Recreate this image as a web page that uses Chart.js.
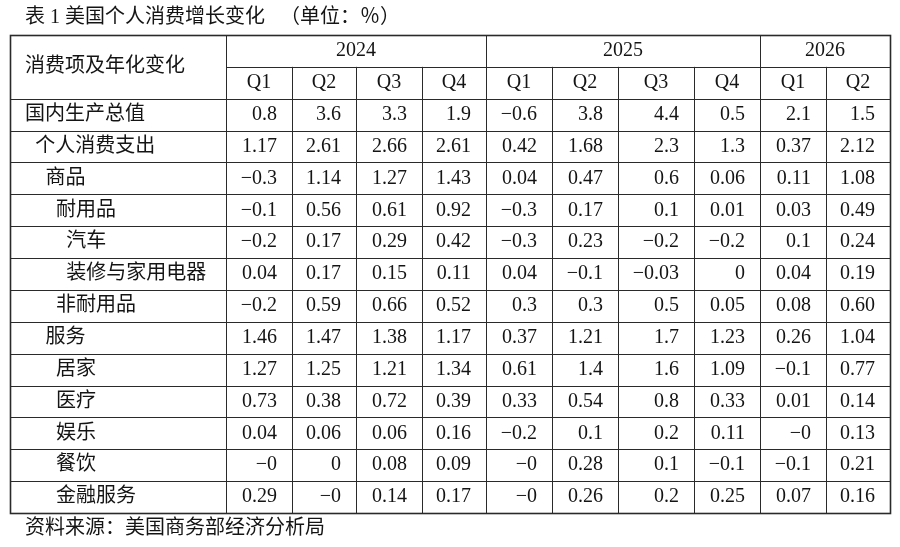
<!DOCTYPE html>
<html>
<head>
<meta charset="utf-8">
<script src="https://cdn.jsdelivr.net/npm/chart.js@4.4.1/dist/chart.umd.min.js"></script>
<style>
  html, body { margin: 0; padding: 0; background: #fff; }
  #myChart { display: block; }
</style>
</head>
<body>
<canvas id="myChart" width="900" height="547"></canvas>
<script>
const tableTitle = "表 1 美国个人消费增长变化   （单位：％）"
const sourceNote = "资料来源：美国商务部经济分析局"
const cornerLabel = "消费项及年化变化"

// header
const years = ["2024", "2025", "2026"]
const yearSpans = [4, 4, 2]
const quarters = ["Q1", "Q2", "Q3", "Q4", "Q1", "Q2", "Q3", "Q4", "Q1", "Q2"]

// row labels and their indent level
const items = ["国内生产总值", "个人消费支出", "商品", "耐用品", "汽车", "装修与家用电器", "非耐用品",
  "服务", "居家", "医疗", "娱乐", "餐饮", "金融服务"]
const itemLevels = [0, 1, 2, 3, 4, 4, 3, 2, 3, 3, 3, 3, 3]

// values, kept as printed in the table
const gdp = ["0.8", "3.6", "3.3", "1.9", "-0.6", "3.8", "4.4", "0.5", "2.1", "1.5"]
const pce = ["1.17", "2.61", "2.66", "2.61", "0.42", "1.68", "2.3", "1.3", "0.37", "2.12"]
const goods = ["-0.3", "1.14", "1.27", "1.43", "0.04", "0.47", "0.6", "0.06", "0.11", "1.08"]
const durable = ["-0.1", "0.56", "0.61", "0.92", "-0.3", "0.17", "0.1", "0.01", "0.03", "0.49"]
const autos = ["-0.2", "0.17", "0.29", "0.42", "-0.3", "0.23", "-0.2", "-0.2", "0.1", "0.24"]
const furnishings = ["0.04", "0.17", "0.15", "0.11", "0.04", "-0.1", "-0.03", "0", "0.04", "0.19"]
const nondurable = ["-0.2", "0.59", "0.66", "0.52", "0.3", "0.3", "0.5", "0.05", "0.08", "0.60"]
const services = ["1.46", "1.47", "1.38", "1.17", "0.37", "1.21", "1.7", "1.23", "0.26", "1.04"]
const housing = ["1.27", "1.25", "1.21", "1.34", "0.61", "1.4", "1.6", "1.09", "-0.1", "0.77"]
const health = ["0.73", "0.38", "0.72", "0.39", "0.33", "0.54", "0.8", "0.33", "0.01", "0.14"]
const recreation = ["0.04", "0.06", "0.06", "0.16", "-0.2", "0.1", "0.2", "0.11", "-0", "0.13"]
const foodService = ["-0", "0", "0.08", "0.09", "-0", "0.28", "0.1", "-0.1", "-0.1", "0.21"]
const financial = ["0.29", "-0", "0.14", "0.17", "-0", "0.26", "0.2", "0.25", "0.07", "0.16"]

const rows = [gdp, pce, goods, durable, autos, furnishings, nondurable,
  services, housing, health, recreation, foodService, financial]

// layout: column widths in x-axis units
const colWidths = [216, 66, 64, 66, 64, 66, 66, 76, 66, 66, 64]
const edges = [0]
colWidths.forEach(w => edges.push(edges[edges.length - 1] + w))
const headerRows = 2
const totalRows = headerRows + items.length

const font = '20px "Liberation Serif", "Noto Sans CJK SC", serif'
const ink = "#141414"

// one anchor point per value cell
const cells = []
rows.forEach((row, r) => {
  row.forEach((v, c) => {
    cells.push({ x: (edges[c + 1] + edges[c + 2]) / 2, y: headerRows + r + 0.5, col: c, text: v })
  })
})

const tablePlugin = {
  id: "tablePlugin",
  afterDraw(chart) {
    const { ctx, scales: { x, y } } = chart
    const px = v => x.getPixelForValue(v)
    const py = v => y.getPixelForValue(v)
    const snap = v => Math.round(v) + 0.5

    ctx.save()
    ctx.strokeStyle = "#2a2a2a"

    // inner lines
    ctx.lineWidth = 1
    ctx.beginPath()
    // line under year row, only over the data columns
    ctx.moveTo(px(edges[1]), snap(py(1)))
    ctx.lineTo(px(edges[edges.length - 1]), snap(py(1)))
    for (let r = 2; r < totalRows; r++) {
      ctx.moveTo(px(0), snap(py(r)))
      ctx.lineTo(px(edges[edges.length - 1]), snap(py(r)))
    }
    // vertical lines
    const yearEdges = [1]
    yearSpans.reduce((a, s) => { yearEdges.push(a + s); return a + s }, 1)
    for (let c = 1; c < edges.length - 1; c++) {
      const top = yearEdges.includes(c) ? 0 : 1
      ctx.moveTo(snap(px(edges[c])), py(top))
      ctx.lineTo(snap(px(edges[c])), py(totalRows))
    }
    ctx.stroke()

    // outer border
    ctx.lineWidth = 1.6
    ctx.strokeRect(snap(px(0)), snap(py(0)), Math.round(px(edges[edges.length - 1]) - px(0)), Math.round(py(totalRows) - py(0)))

    ctx.fillStyle = ink
    ctx.font = font
    ctx.textBaseline = "middle"

    // title and source
    ctx.textAlign = "left"
    ctx.fillText(tableTitle, 25, 18)
    ctx.fillText(sourceNote, 25, 529)

    // header
    ctx.fillText(cornerLabel, px(15), py(1))
    ctx.textAlign = "center"
    let start = 1
    years.forEach((yr, i) => {
      const end = start + yearSpans[i]
      ctx.fillText(yr, (px(edges[start]) + px(edges[end])) / 2, py(0.5))
      start = end
    })
    quarters.forEach((q, i) => {
      ctx.fillText(q, (px(edges[i + 1]) + px(edges[i + 2])) / 2, py(1.5))
    })

    // row labels
    ctx.textAlign = "left"
    items.forEach((name, r) => {
      ctx.fillText(name, px(15 + itemLevels[r] * 10.3), py(headerRows + r + 0.5))
    })

    // values, right aligned in their cells
    ctx.textAlign = "right"
    const meta = chart.getDatasetMeta(0)
    meta.data.forEach((pt, i) => {
      const cell = cells[i]
      const right = px(edges[cell.col + 2]) - 15
      ctx.fillText(cell.text.replace("-", "−"), right, pt.y)
    })
    ctx.restore()
  }
}

const canvas = document.querySelector("#myChart")
new Chart(canvas, {
  type: "scatter",
  data: {
    datasets: [{
      data: cells,
      pointRadius: 0,
      pointHoverRadius: 0
    }]
  },
  options: {
    responsive: false,
    animation: false,
    events: [],
    layout: { padding: { left: 10, right: 10, top: 35, bottom: 34 } },
    scales: {
      x: { type: "linear", min: 0, max: edges[edges.length - 1], display: false },
      y: { type: "linear", min: 0, max: totalRows, reverse: true, display: false }
    },
    plugins: {
      legend: { display: false },
      tooltip: { enabled: false }
    }
  },
  plugins: [tablePlugin]
})
</script>
</body>
</html>
